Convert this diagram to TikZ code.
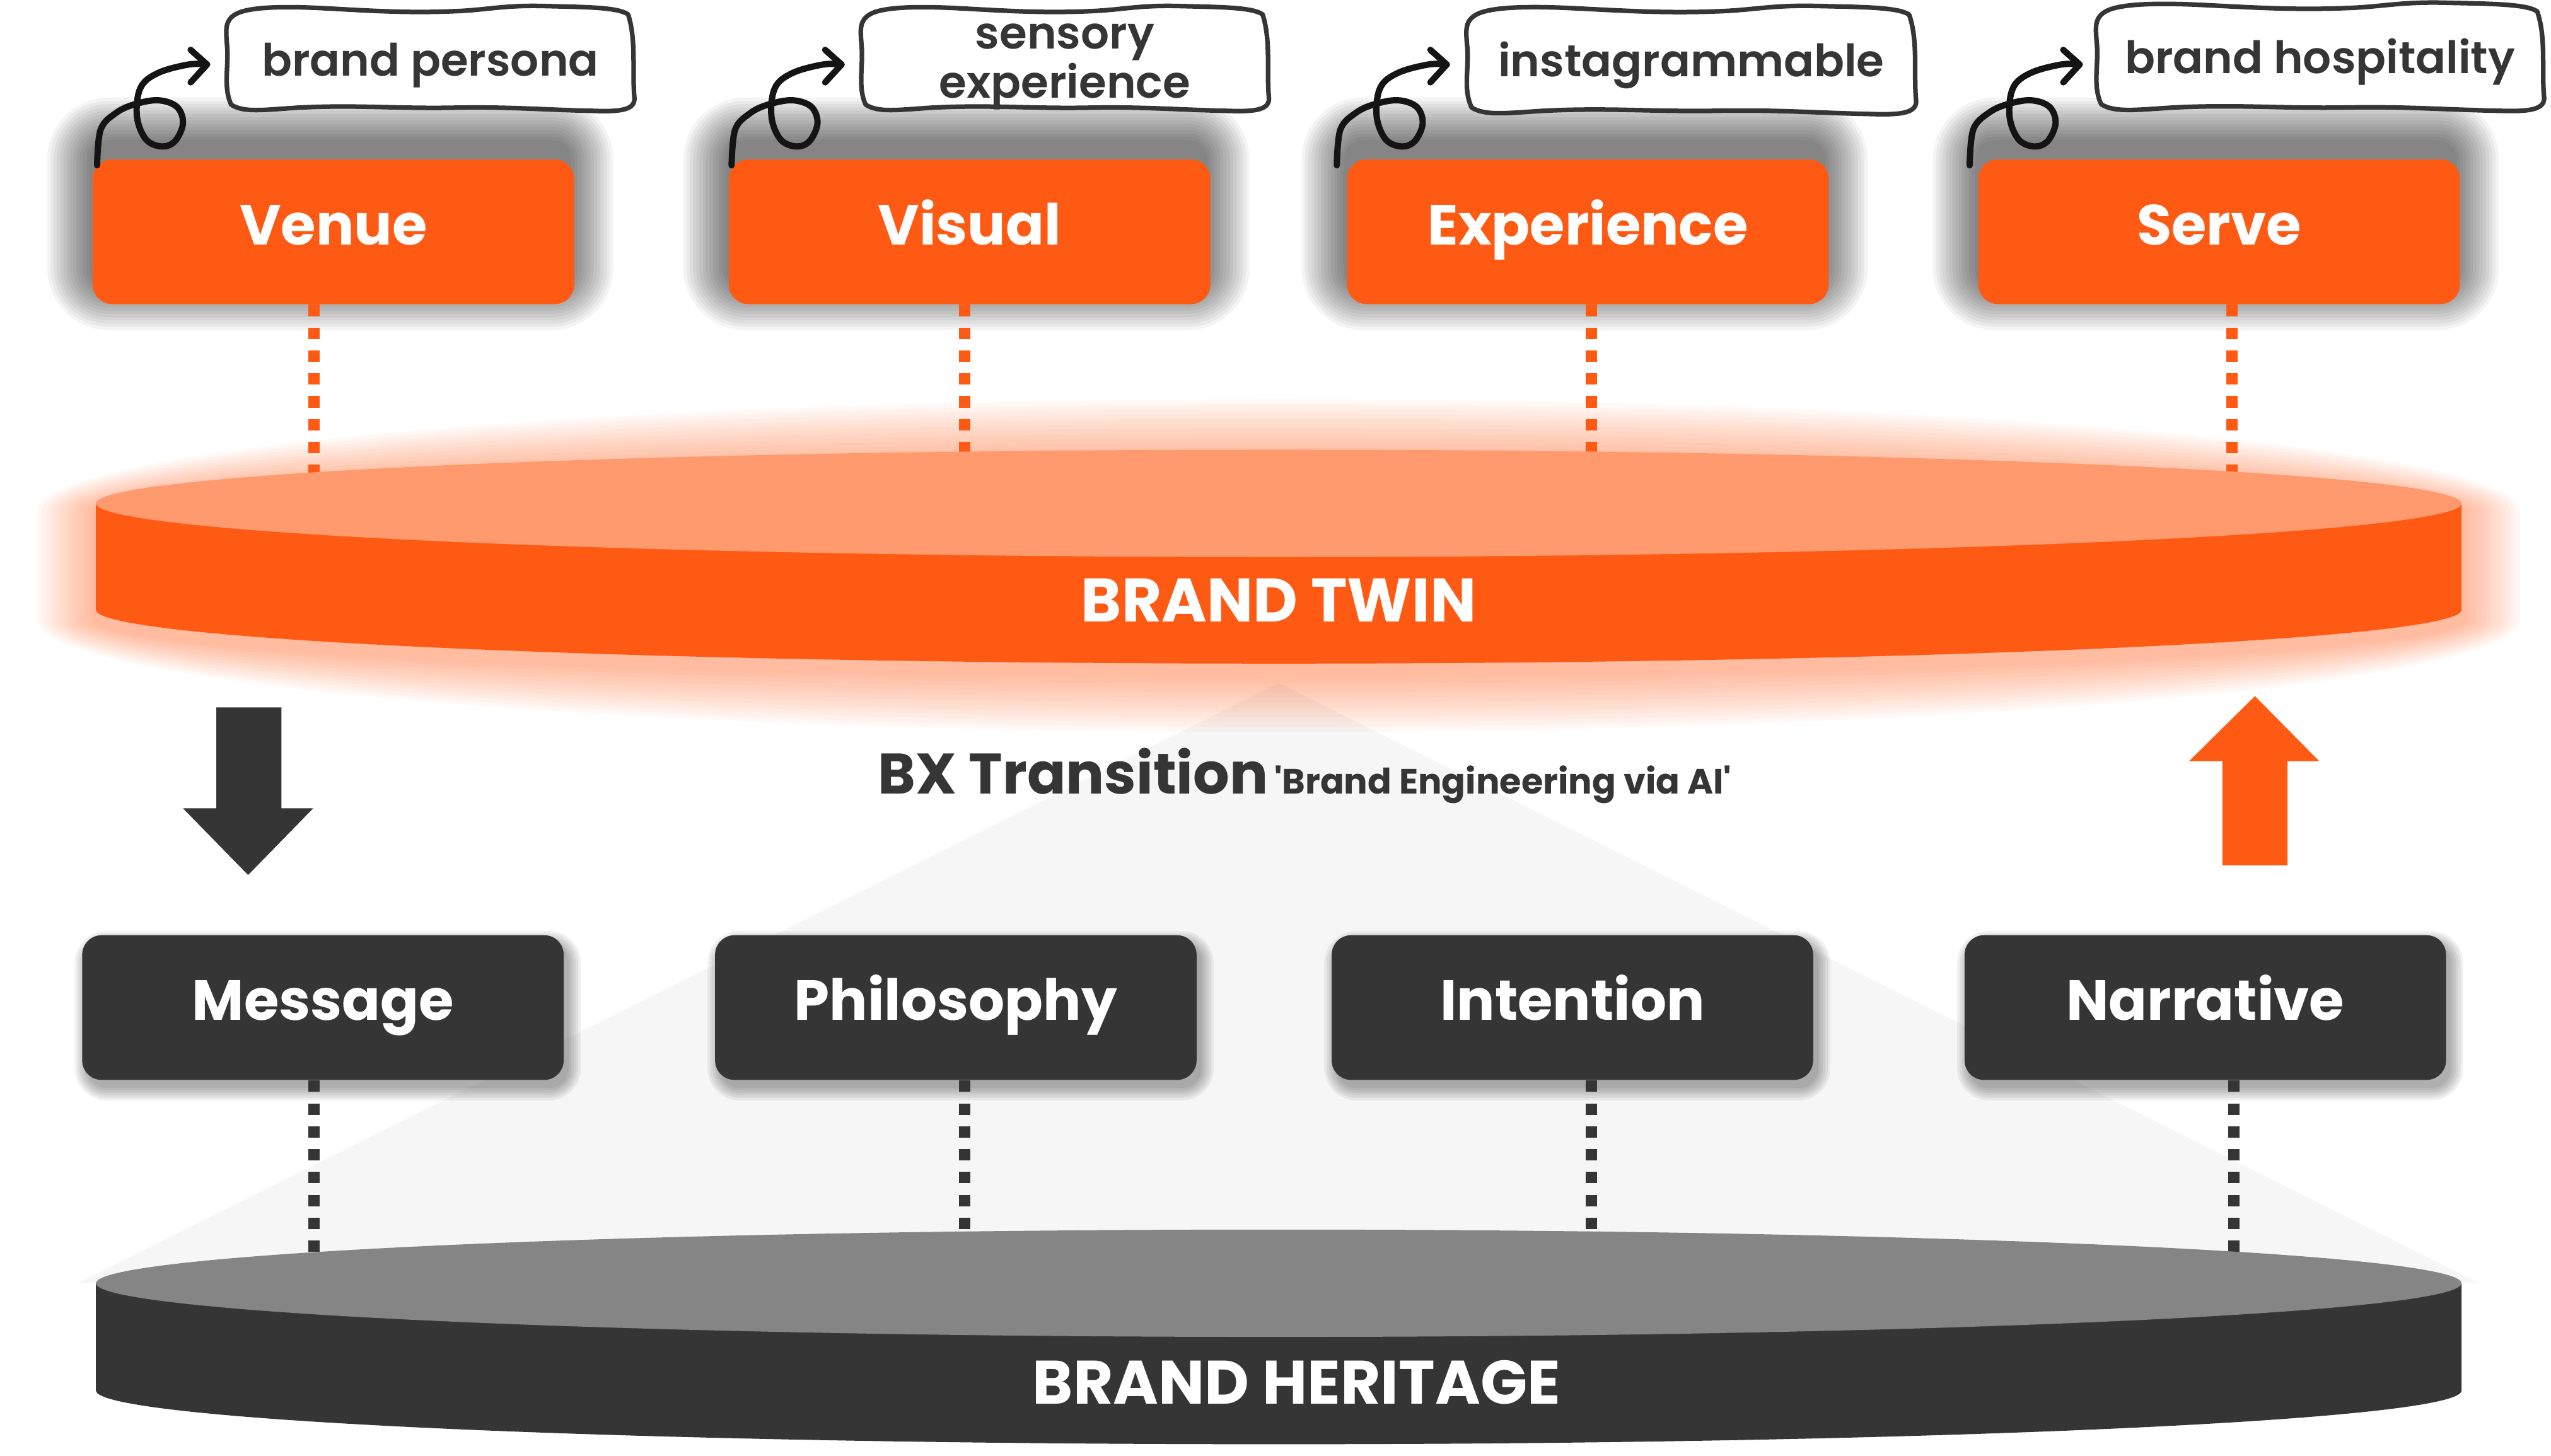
\documentclass[tikz,border=0pt]{standalone}
\usepackage{fontspec}
\setmainfont{Poppins}[Ligatures=TeXOff]
\newfontfamily\popsb{Poppins SemiBold}[Ligatures=TeXOff]
\usetikzlibrary{calc}
\definecolor{org}{HTML}{FF5A14}
\definecolor{orglight}{HTML}{FF9A6E}
\definecolor{drk}{HTML}{353535}
\definecolor{hertop}{HTML}{858585}
\definecolor{tri}{HTML}{F6F6F6}

\newcommand\wobbox[4]{%
  \pgfmathsetmacro\wbx{#3*0.0002}%
  \pgfmathsetmacro\wby{#4*0.0002}%
  \begin{scope}[shift={(#1,-#2)}, x=\wbx cm, y=\wby cm]
    \draw[wob] (3,-6) .. controls (6,1) and (14,2) .. (24,0)
      .. controls (34,-2) and (44,-5) .. (56,-3)
      .. controls (64,-2) and (68,3) .. (78,2)
      .. controls (88,1) and (96,1) .. (98.5,-6)
      .. controls (100.5,-30) and (99.5,-60) .. (100,-84)
      .. controls (100.5,-97) and (97,-99) .. (90,-98)
      .. controls (78,-97) and (70,-94) .. (56,-95)
      .. controls (42,-96) and (32,-92) .. (18,-95)
      .. controls (10,-97) and (5,-100) .. (2,-92)
      .. controls (0,-75) and (1.5,-55) .. (1,-35)
      .. controls (0.7,-20) and (0.5,-12) .. (3,-6) -- cycle;
  \end{scope}}

\begin{document}
\begin{tikzpicture}[x=0.02cm,y=0.02cm,
  obox/.style={fill=org, rounded corners=0.24cm, minimum width=5.92cm, minimum height=1.78cm,
    inner sep=0pt, text=white, font=\bfseries\fontsize{19.8}{24}\selectfont, text height=0.9em, text depth=0pt},
  dbox/.style={obox, fill=drk},
  lab/.style={text=drk, font=\popsb\fontsize{15.6}{16.2}\selectfont, align=center, inner sep=0pt},
  odash/.style={draw=org, line width=4pt, dash pattern=on 4pt off 4pt},
  ddash/.style={odash, draw=drk},
  curl/.style={draw=black!92, line width=2.2pt, line cap=round, line join=round},
  wob/.style={draw=drk, line width=1.6pt, fill=white, line join=round},
  disclabel/.style={text=white, font=\bfseries\fontsize{21.5}{24}\selectfont, inner sep=0pt, text height=0.7em, text depth=0pt}
]
\useasboundingbox (0,0) rectangle (1568,-895);
\fill[white] (0,0) rectangle (1568,-895);

% light triangle
\fill[tri] (786,-420) -- (1524,-789) -- (48,-789) -- cycle;

% glow around brand twin
\foreach \e in {3,6,...,36} {
  \fill[org, opacity=0.04] ({786-727-\e},-314.5)
    arc[start angle=180, end angle=0, x radius={727+\e}, y radius={33+\e}]
    -- ({786+727+\e},-381)
    arc[start angle=0, end angle=-180, x radius={727+\e}, y radius={33+\e}] -- cycle;
}

% shadows of orange boxes
\foreach \cx in {205,596,976,1364} {
  \foreach \k [evaluate=\k as \rr using 0.24+\k*0.04] in {0,...,13} {
    \fill[black, opacity=0.045, rounded corners=\rr cm]
      ({\cx-150-\k*2},{-86+\k*2}) rectangle ({\cx+146+\k*2},{-177-\k*2});
  }
}
% shadows of dark boxes
\foreach \cx in {198.5,587.5,966.5,1355.5} {
  \foreach \k [evaluate=\k as \rr using 0.24+\k*0.03] in {0,...,5} {
    \fill[black, opacity=0.06, rounded corners=\rr cm]
      ({\cx-148+3-\k*1.5},{-575-5+\k*1.5}) rectangle ({\cx+148+3+\k*1.5},{-664-5-\k*1.5});
  }
}

% hand-drawn label boxes
\wobbox{137}{5}{255}{65}
\wobbox{527}{5}{255}{65}
\wobbox{899}{5}{281}{67}
\wobbox{1286}{3}{280}{67}
\node[lab] (l1) at (264.5,-40) {brand persona};
\node[lab] (l2) at (654.5,-41) {sensory\\experience};
\node[lab] (l3) at (1039.5,-40) {instagrammable};
\node[lab] (l4) at (1426,-38) {brand hospitality};

% boxes
\node[obox] (venue)  at (205,-142.5) {Venue};
\node[obox] (visual) at (596,-142.5) {Visual};
\node[obox] (exper)  at (976,-142.5) {Experience};
\node[obox] (serve)  at (1364,-142.5) {Serve};
\node[dbox] (message) at (198.5,-619.5) {Message};
\node[dbox] (philo)   at (587.5,-619.5) {Philosophy};
\node[dbox] (intent)  at (966.5,-619.5) {Intention};
\node[dbox] (narr)    at (1355.5,-619.5) {Narrative};

% curly arrows
\foreach \n/\d in {venue/3, visual/2, exper/-6, serve/-5} {
  \begin{scope}[shift={($(\n.north west)+(\d,-2)$)}]
    \draw[curl] plot[smooth, tension=0.6] coordinates {(0,-2) (2.2,20) (11.6,30.2) (23,35.5) (37.5,38) (49,34) (52.8,24) (48,13) (39.8,9.6) (30,14) (24.5,28) (26.7,45.7) (37.5,54.8) (56.3,60) (67.6,60)};
    \draw[curl] (57.5,69) -- (67.6,60) -- (57.5,49);
  \end{scope}
}

% dashed connectors
\coordinate (t1) at (193,-309.5);
\coordinate (t2) at (593,-309.5);
\coordinate (t3) at (978,-309.5);
\coordinate (t4) at (1372,-309.5);
\coordinate (h1) at (193,-789);
\coordinate (h2) at (593,-789);
\coordinate (h3) at (978,-789);
\coordinate (h4) at (1373,-789);
\draw[odash] (venue.south -| t1) -- (t1);
\draw[odash] (visual.south -| t2) -- (t2);
\draw[odash] (exper.south -| t3) -- (t3);
\draw[odash] (serve.south -| t4) -- (t4);
\draw[ddash] (message.south -| h1) -- (h1);
\draw[ddash] (philo.south -| h2) -- (h2);
\draw[ddash] (intent.south -| h3) -- (h3);
\draw[ddash] (narr.south -| h4) -- (h4);

% brand twin disc
\fill[org] (59,-309.5) -- (59,-375)
  arc[start angle=180, end angle=360, x radius=727, y radius=33] -- (1513,-309.5) -- cycle;
\fill[orglight] (786,-309.5) ellipse[x radius=727, y radius=33];
\node[disclabel] (twin) at (786,-376) {BRAND TWIN};

% brand heritage disc
\fill[drk] (59,-789) -- (59,-855)
  arc[start angle=180, end angle=360, x radius=727, y radius=33] -- (1513,-789) -- cycle;
\fill[hertop] (786,-789) ellipse[x radius=727, y radius=33];
\node[disclabel] (heritage) at (797,-857) {BRAND HERITAGE};

% big arrows
\fill[drk] (133,-435) -- (173,-435) -- (173,-497) -- (192.5,-497) -- (152.5,-538) -- (112.5,-497) -- (133,-497) -- cycle;
\fill[org] (1366,-532) -- (1406,-532) -- (1406,-468) -- (1425.5,-468) -- (1386,-428) -- (1345.5,-468) -- (1366,-468) -- cycle;

% transition text
\node[anchor=base, text=drk, inner sep=0pt, font=\bfseries] (bx) at (802,-488)
  {{\fontsize{20}{24}\selectfont BX Transition} {\fontsize{12.3}{14}\selectfont 'Brand Engineering via AI'}};
\end{tikzpicture}
\end{document}
